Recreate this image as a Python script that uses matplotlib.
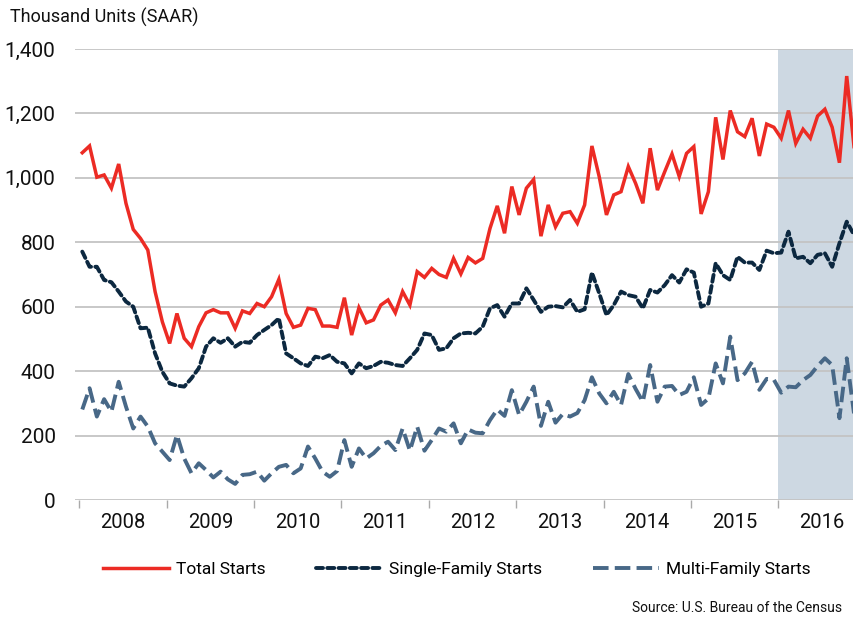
import matplotlib
matplotlib.use("Agg")
import matplotlib.pyplot as plt
import numpy as np
from matplotlib.ticker import FixedLocator, FuncFormatter

# Monthly data, Jan 2008 - Nov 2016 (thousand units, SAAR)
total_starts = [
    1078, 1099, 1002, 1009, 968, 1043, 921, 840, 812, 776, 647, 553,
    486, 579, 502, 476, 538, 581, 591, 581, 581, 533, 587, 579,
    610, 600, 631, 685, 579, 536, 543, 595, 591, 540, 540, 536,
    628, 512, 597, 550, 559, 605, 621, 581, 647, 605, 709, 691,
    719, 700, 691, 750, 702, 753, 736, 750, 843, 913, 828, 973,
    885, 968, 995, 819, 916, 848, 890, 895, 859, 916, 1099, 1004,
    885, 947, 957, 1035, 983, 921, 1092, 962, 1019, 1074, 1004, 1076,
    1097, 888, 957, 1188, 1057, 1209, 1143, 1128, 1185, 1068, 1167, 1157,
    1123, 1209, 1107, 1151, 1123, 1192, 1213, 1157, 1047, 1316, 1097,
]
single_family = [
    771, 724, 724, 683, 676, 647, 616, 600, 533, 535, 455, 398,
    362, 355, 352, 378, 409, 476, 502, 488, 502, 476, 491, 488,
    512, 528, 543, 564, 455, 440, 424, 416, 445, 440, 450, 429,
    424, 393, 424, 409, 416, 429, 426, 419, 416, 440, 466, 517,
    512, 466, 471, 502, 517, 519, 517, 538, 595, 605, 569, 610,
    610, 657, 621, 584, 600, 602, 598, 621, 584, 592, 706, 642,
    574, 605, 647, 636, 631, 595, 652, 644, 667, 698, 675, 716,
    706, 600, 610, 735, 698, 683, 755, 737, 737, 714, 774, 766,
    768, 833, 750, 755, 735, 761, 766, 724, 797, 864, 823,
]
multi_family = [
    281, 347, 259, 313, 274, 367, 290, 222, 259, 228, 176, 150,
    124, 202, 129, 83, 114, 93, 70, 88, 64, 50, 78, 80,
    88, 60, 83, 103, 109, 83, 98, 166, 129, 88, 72, 90,
    186, 103, 160, 129, 145, 168, 181, 155, 222, 153, 228, 153,
    186, 222, 212, 238, 176, 219, 209, 207, 248, 281, 261, 341,
    264, 305, 352, 230, 305, 240, 267, 259, 270, 310, 381, 331,
    300, 336, 295, 391, 345, 305, 419, 305, 352, 354, 326, 336,
    381, 295, 315, 424, 362, 507, 372, 393, 429, 342, 376, 373,
    333, 352, 350, 372, 388, 416, 440, 419, 254, 440, 269,
]
years = [2008, 2009, 2010, 2011, 2012, 2013, 2014, 2015, 2016]
series_names = ["Total Starts", "Single-Family Starts", "Multi-Family Starts"]
y_ticks = [0, 200, 400, 600, 800, 1000, 1200, 1400]
forecast_start_year = 2016

plt.rcParams['font.family'] = ['Roboto', 'DejaVu Sans']

fig = plt.figure(figsize=(8.54, 6.18), dpi=100)
ax = fig.add_axes([75/854, 1-500/618, 779/854, 451/618])

n = len(total_starts)
x = np.arange(n) + 0.4  # months since Jan 2008

red = '#ec2b24'
navy = '#0c2840'
slate = '#486887'

ax.axvspan((forecast_start_year - years[0]) * 12, 200, color='#cdd8e2', zorder=0, lw=0)

l1, = ax.plot(x, total_starts, color=red, lw=2.5, solid_joinstyle='miter', zorder=3)
l2, = ax.plot(x, single_family, color=navy, lw=2.8, ls=(0, (1.8, 1.1)), dash_capstyle='round', zorder=3)
l3, = ax.plot(x, multi_family, color=slate, lw=2.8, ls=(0, (4.0, 1.6)), dash_capstyle='butt', zorder=3)

ax.set_ylim(0, 1400)
ax.set_xlim(-0.6, n - 1 + 0.4)
ax.set_yticks(y_ticks)
ax.yaxis.set_major_formatter(FuncFormatter(lambda v, p: f"{int(v):,}"))
ax.grid(axis='y', color='#c4c4c4', lw=1.3, zorder=1)
ax.set_axisbelow(True)

# year boundaries ticks, labels centred in year
ax.xaxis.set_major_locator(FixedLocator([(y - years[0]) * 12 for y in years]))
ax.xaxis.set_minor_locator(FixedLocator([(y - years[0]) * 12 + 6 for y in years]))
ax.set_xticklabels([])
ax.set_xticklabels([str(y) for y in years], minor=True)
ax.tick_params(axis='x', which='major', length=6, color='#aaaaaa', width=1)
ax.tick_params(axis='x', which='minor', length=0, labelsize=14.5, pad=9, labelcolor='#111111')
ax.tick_params(axis='y', length=0, labelsize=15, pad=14, labelcolor='#111111')
for s in ax.spines.values():
    s.set_visible(False)

fig.text(10/854, 1-17/618, "Thousand Units (SAAR)", fontsize=13, ha='left', va='center', color='#111111')

fig.legend([l1, l2, l3], series_names, loc='center', bbox_to_anchor=(0.535, 1-569/618),
           ncol=3, frameon=False, fontsize=12.5, handlelength=3.8, columnspacing=2.9,
           handletextpad=0.4)

fig.text(842/854, 1-608/618, "Source: U.S. Bureau of the Census", fontsize=10,
         ha='right', va='center', color='#111111')

fig.savefig("out.png", dpi=100)
